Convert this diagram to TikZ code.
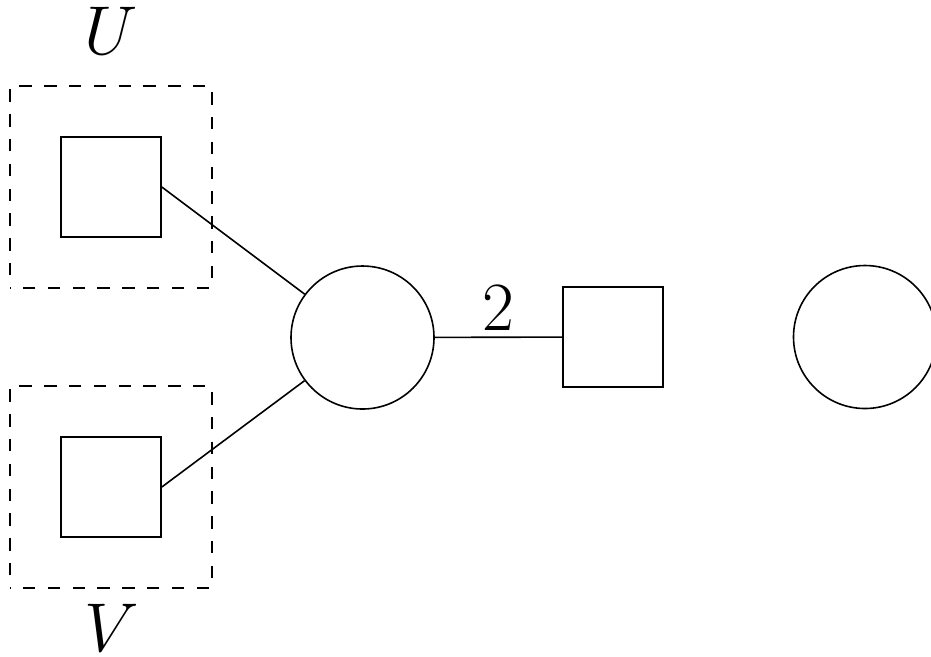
\documentclass[tikz,border=0pt]{standalone}
\begin{document}
\begin{tikzpicture}[x=0.25pt,y=-0.25pt,
  sq/.style={draw,rectangle,minimum size=25pt,inner sep=0pt,line width=0.4pt},
  circ/.style={draw,circle,minimum size=35.75pt,inner sep=0pt,line width=0.4pt},
  grp/.style={rectangle,minimum size=50pt,inner sep=0pt},
  grpline/.style={dash pattern=on 3.1pt off 3.1pt,dash phase=3.1pt,line width=0.4pt},
  lbl/.style={inner sep=0pt,font=\fontsize{16.4}{20}\selectfont},
  edge/.style={line width=0.4pt}]
\useasboundingbox (0,0) rectangle (931,656);
\node[grp] (bu) at (111,187) {};
\node[grp] (bv) at (111,487) {};
\draw[grpline] (bu.south west) -- (bu.north west) -- (bu.north east) -- (bu.south east) -- cycle;
\draw[grpline] (bv.south west) -- (bv.north west) -- (bv.north east) -- (bv.south east) -- cycle;
\node[sq] (su) at (111,187) {};
\node[sq] (sv) at (111,487) {};
\node[circ] (c1) at (362.5,337.5) {};
\node[sq] (sr) at (613,337) {};
\node[circ] (c2) at (865,337) {};
\node[lbl] (lu) at (111,31) {$U$};
\node[lbl] (lv) at (112,628) {$V$};
\draw[edge] (su.east) -- (c1);
\draw[edge] (sv.east) -- (c1);
\draw[edge] (c1) -- (sr) node[lbl,pos=0.5,above=1.5pt] (l2) {$2$};
\end{tikzpicture}
\end{document}
